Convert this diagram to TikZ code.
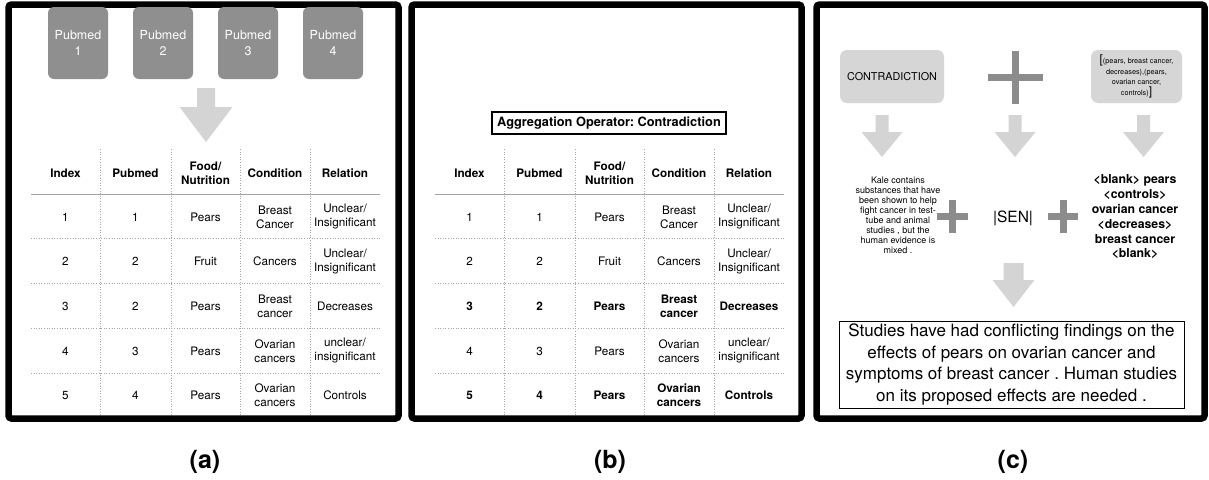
\documentclass[tikz,border=0pt]{standalone}
\usepackage{fontspec}
\setmainfont{TeX Gyre Heros}
\frenchspacing
\definecolor{pubgray}{RGB}{143,143,143}
\definecolor{arrowgray}{RGB}{212,212,212}
\definecolor{plusgray}{RGB}{140,140,140}
\definecolor{lightbox}{RGB}{214,214,214}
\definecolor{gridgray}{RGB}{165,165,165}
\tikzset{
  pub/.style={fill=pubgray, rounded corners=6pt, minimum width=60pt, minimum height=72pt,
    text=white, align=center, font=\fontsize{12.5}{16}\selectfont, inner sep=0pt},
  cell/.style={align=center, font=\fontsize{11.7}{14}\selectfont, inner sep=0pt},
  hcell/.style={align=center, font=\fontsize{11.7}{14}\selectfont\bfseries, inner sep=0pt},
  gridline/.style={gridgray, dotted, line width=0.6pt},
  headline/.style={gridgray, line width=1pt},
  panel/.style={line width=6.5pt, rounded corners=3pt},
  graybox/.style={fill=lightbox, rounded corners=7pt, inner sep=0pt, align=center},
  sublabel/.style={font=\fontsize{25}{27}\selectfont\bfseries, inner sep=0pt},
}
\newcommand\fatarrow[6]{% x, top, headtop, tip, shaft half, head half
  \fill[arrowgray] (#1-#5,#2) -- (#1+#5,#2) -- (#1+#5,#3) -- (#1+#6,#3) -- (#1,#4)
    -- (#1-#6,#3) -- (#1-#5,#3) -- cycle;}
\newcommand\plussign[5]{% cx, cy, half w, half h, half thickness
  \fill[plusgray] (#1-#3,#2-#5) rectangle (#1+#3,#2+#5);
  \fill[plusgray] (#1-#5,#2-#4) rectangle (#1+#5,#2+#4);}
\newcommand\tblrow[9]{%
  \node[#4] (#1r#2c1) at (\tx+65.5,#3) {#5};
  \node[#4] (#1r#2c2) at (\tx+135.5,#3) {#6};
  \node[#4] (#1r#2c3) at (\tx+205.5,#3) {#7};
  \node[#4] (#1r#2c4) at (\tx+275,#3) {#8};
  \node[#4] (#1r#2c5) at (\tx+345,#3) {#9};}
\newcommand\tblgrid{%
  \foreach \vx in {100,171,240,310} \draw[gridline] (\tx+\vx,149) -- (\tx+\vx,416);
  \draw[headline] (\tx+31,194) -- (\tx+380,194);
  \foreach \hy in {238.5,283,328,373} \draw[gridline] (\tx+31,\hy) -- (\tx+380,\hy);}
\begin{document}
\begin{tikzpicture}[x=1pt,y=-1pt]
\useasboundingbox[fill=white] (0,0) rectangle (1209,479);
% panels
\draw[panel] (8.5,4.5) rectangle (398.5,418.5);
\draw[panel] (411.5,4.5) rectangle (801.5,418.5);
\draw[panel] (816.5,4.5) rectangle (1204.5,418.5);
% ---------- panel (a)
\node[pub] (pm1) at (78,43) {Pubmed\\1};
\node[pub] (pm2) at (163,43) {Pubmed\\2};
\node[pub] (pm3) at (248,43) {Pubmed\\3};
\node[pub] (pm4) at (333,43) {Pubmed\\4};
\fatarrow{206}{88}{107}{142}{9}{26.5}
\def\tx{0}
\tblgrid
\tblrow{a}{0}{173}{hcell}{Index}{Pubmed}{Food/\\Nutrition}{Condition}{Relation}
\tblrow{a}{1}{217}{cell}{1}{1}{Pears}{Breast\\Cancer}{Unclear/\\Insignificant}
\tblrow{a}{2}{261.5}{cell}{2}{2}{Fruit}{Cancers}{Unclear/\\Insignificant}
\tblrow{a}{3}{306}{cell}{3}{2}{Pears}{Breast\\cancer}{Decreases}
\tblrow{a}{4}{351}{cell}{4}{3}{Pears}{Ovarian\\cancers}{unclear/\\insignificant}
\tblrow{a}{5}{395.5}{cell}{5}{4}{Pears}{Ovarian\\cancers}{Controls}
% ---------- panel (b)
\node[draw, line width=1.2pt, minimum width=234pt, minimum height=22pt, inner sep=0pt,
  font=\fontsize{12.8}{14}\selectfont\bfseries] (agg) at (609,123) {Aggregation Operator: Contradiction};
\def\tx{404}
\tblgrid
\tblrow{b}{0}{173}{hcell}{Index}{Pubmed}{Food/\\Nutrition}{Condition}{Relation}
\tblrow{b}{1}{217}{cell}{1}{1}{Pears}{Breast\\Cancer}{Unclear/\\Insignificant}
\tblrow{b}{2}{261.5}{cell}{2}{2}{Fruit}{Cancers}{Unclear/\\Insignificant}
\tblrow{b}{3}{306}{hcell}{3}{2}{Pears}{Breast\\cancer}{Decreases}
\tblrow{b}{4}{351}{cell}{4}{3}{Pears}{Ovarian\\cancers}{unclear/\\insignificant}
\tblrow{b}{5}{395.5}{hcell}{5}{4}{Pears}{Ovarian\\cancers}{Controls}
% ---------- panel (c)
\node[graybox, minimum width=104pt, minimum height=53pt, font=\fontsize{10.8}{12}\selectfont]
  (contra) at (892,76.5) {CONTRADICTION};
\plussign{1015.5}{77}{27.5}{26.5}{3.5}
\node[graybox, minimum width=91pt, minimum height=53pt, font=\fontsize{7.3}{10.5}\selectfont]
  (tuples) at (1136.5,76.5) {{\fontsize{12}{10.5}\selectfont[}(pears, breast cancer,\\decreases),(pears,\\ovarian cancer,\\controls){\fontsize{12}{10.5}\selectfont]}};
\fatarrow{882}{115}{132}{157}{6.5}{20.5}
\fatarrow{1015}{115}{132}{157}{6.5}{20.5}
\fatarrow{1143.5}{115}{132}{157}{6.5}{20.5}
\node[align=center, inner sep=0pt, font=\fontsize{9}{10}\selectfont] (kale) at (898,215)
  {Kale contains\\substances that have\\been shown to help\\fight cancer in test-\\tube and animal\\studies , but the\\human evidence is\\mixed .};
\plussign{952.5}{216.5}{15.5}{16.5}{3.5}
\node[inner sep=0pt, font=\fontsize{15.5}{17}\selectfont] (sen) at (1013,218) {|SEN|};
\plussign{1063}{216.5}{15}{16.5}{3.5}
\node[align=center, inner sep=0pt, font=\fontsize{12.3}{14.8}\selectfont\bfseries] (templ) at (1135,217)
  {<blank> pears\\<controls>\\ovarian cancer\\<decreases>\\breast cancer\\<blank>};
\fatarrow{1013.5}{263}{280}{307}{10}{21}
\node[draw, line width=0.8pt, minimum width=345pt, minimum height=87pt, inner sep=0pt, align=center,
  font=\fontsize{17}{21.5}\selectfont] (result) at (1011.5,364.5)
  {Studies have had conflicting findings on the\\effects of pears on ovarian cancer and\\symptoms of breast cancer . Human studies\\on its proposed effects are needed .};
% sub labels
\node[sublabel] (la) at (205,462) {(a)};
\node[sublabel] (lb) at (610,462) {(b)};
\node[sublabel] (lc) at (1013,462) {(c)};
\end{tikzpicture}
\end{document}
